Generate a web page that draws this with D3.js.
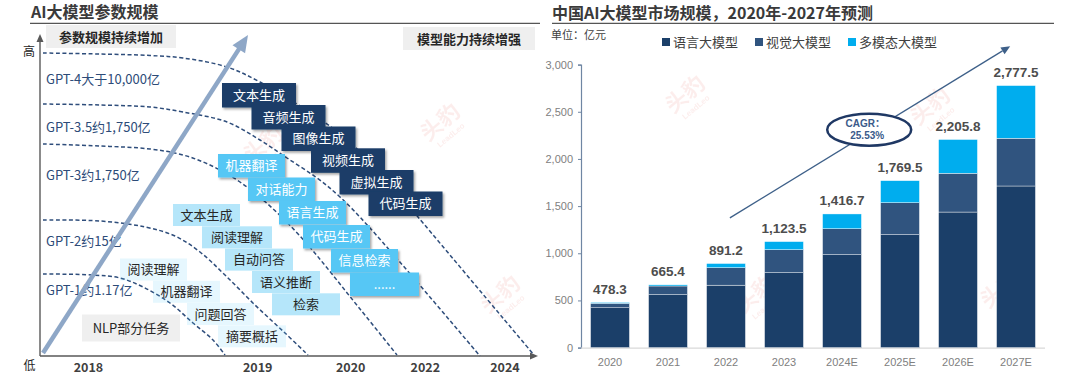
<!DOCTYPE html>
<html><head><meta charset="utf-8">
<script src="https://cdn.jsdelivr.net/npm/d3@7/dist/d3.min.js"></script>
<style>body{margin:0;background:#fff;} svg{display:block;}</style>
</head><body>
<svg id="c" width="1080" height="376"></svg>
<script>
// ---------------- DATA (right chart) ----------------
const years = ["2020","2021","2022","2023","2024E","2025E","2026E","2027E"];
const totals = [478.3, 665.4, 891.2, 1123.5, 1416.7, 1769.5, 2205.8, 2777.5];
const language = [422, 561, 662, 794, 985, 1197, 1437, 1713];
const visual = [48, 92, 185, 244, 275, 339, 411, 506];
const multimodal = [8.3, 12.4, 44.2, 85.5, 156.7, 233.5, 357.8, 558.5];
const seriesNames = ["语言大模型","视觉大模型","多模态大模型"];
const yTicks = [0, 500, 1000, 1500, 2000, 2500, 3000];
const cagrText = ["CAGR：", "25.53%"];

// ---------------- DATA (left diagram) ----------------
const leftYears = ["2018","2019","2020","2022","2024"];
const gptLabels = ["GPT-4大于10,000亿","GPT-3.5约1,750亿","GPT-3约1,750亿","GPT-2约15亿","GPT-1约1.17亿"];
const darkTasks = ["文本生成","音频生成","图像生成","视频生成","虚拟生成","代码生成"];
const cyanTasks = ["机器翻译","对话能力","语言生成","代码生成","信息检索","......"];
const midTasks = ["文本生成","阅读理解","自动问答","语义推断","检索"];
const paleTasks = ["阅读理解","机器翻译","问题回答","摘要概括"];

// ---------------- LAYOUT ----------------
const CJK = "'Noto Sans CJK SC','Noto Sans',sans-serif";
const NUM = "'Liberation Sans',Arial,'Noto Sans CJK SC',sans-serif";
const colors = ["#1b3f69", "#30547f", "#00adee"];
const svg = d3.select("#c");
const defs = svg.append("defs");
const f = defs.append("filter").attr("id","sh").attr("x","-10%").attr("y","-10%").attr("width","130%").attr("height","140%");
f.append("feDropShadow").attr("dx",1.5).attr("dy",1.8).attr("stdDeviation",1).attr("flood-color","#000").attr("flood-opacity",0.35);

// faint watermarks
const wm = [[268,150],[445,128],[505,300],[690,100],[935,112],[760,300],[1005,295]];
wm.forEach(([x,y])=>{
  const g = svg.append("g").attr("transform",`translate(${x},${y}) rotate(-40)`).attr("opacity",0.09);
  g.append("text").attr("text-anchor","middle").attr("font-family",CJK).attr("font-weight","bold")
    .attr("font-size",22).attr("fill","#e0483e").text("头豹");
  g.append("text").attr("text-anchor","middle").attr("y",12).attr("font-family",NUM).attr("font-weight","bold")
    .attr("font-size",8).attr("fill","#e0483e").text("LeadLeo");
});

// ================= LEFT PANEL =================
const L = svg.append("g");
L.append("text").attr("x",31).attr("y",18).attr("font-family",CJK).attr("font-weight","bold")
  .attr("font-size",16).attr("fill","#3a3a3a").text("AI大模型参数规模");
L.append("line").attr("x1",30).attr("x2",540).attr("y1",23.3).attr("y2",23.3).attr("stroke","#555").attr("stroke-width",1.2);

// gray header boxes
[["参数规模持续增加",46,25,130],["模型能力持续增强",403,27,132]].forEach(([t,x,y,w])=>{
  L.append("rect").attr("x",x).attr("y",y).attr("width",w).attr("height",23).attr("fill","#efefef");
  L.append("text").attr("x",x+w/2).attr("y",y+16.5).attr("text-anchor","middle").attr("font-family",CJK)
    .attr("font-weight","bold").attr("font-size",13).attr("fill","#262626").text(t);
});

// axes
const axisCol = "#595959";
L.append("line").attr("x1",40).attr("y1",356).attr("x2",40).attr("y2",40).attr("stroke",axisCol).attr("stroke-width",1.4);
L.append("path").attr("d","M40,34 L36.5,42 L43.5,42 Z").attr("fill",axisCol);
L.append("line").attr("x1",40).attr("y1",356).attr("x2",532).attr("y2",356).attr("stroke",axisCol).attr("stroke-width",1.4);
L.append("path").attr("d","M538,356 L530,352.5 L530,359.5 Z").attr("fill",axisCol);
L.append("text").attr("x",29).attr("y",56).attr("text-anchor","middle").attr("font-family",CJK).attr("font-size",12).attr("fill","#262626").text("高");
L.append("text").attr("x",29.5).attr("y",369.5).attr("text-anchor","middle").attr("font-family",CJK).attr("font-size",12).attr("fill","#262626").text("低");
const yearX = [88.5, 257.7, 350.7, 425.3, 505];
leftYears.forEach((t,i)=>{
  L.append("text").attr("x",yearX[i]).attr("y",371.5).attr("text-anchor","middle").attr("font-family",CJK)
    .attr("font-weight","bold").attr("font-size",12.5).attr("fill","#404040").text(t);
});

// dashed generation curves
const curvePts = [
  [[43,53],[100,54],[150,55.5],[183,58],[227,67],[260,82],[300,106],[340,134],[380,172],[418,217],[534,355]],
  [[43,104],[100,105],[150,107],[183,112],[227,122],[260,140],[287,158],[317,178],[340,197],[370,228],[480,356]],
  [[43,144],[100,146],[150,149],[183,155],[210,165],[237,180],[262,199],[300,236],[360,309],[397,355]],
  [[43,220],[100,221],[145,227],[175,236],[200,252],[225,275],[255,305],[285,333],[308,355]],
  [[43,274],[93,275],[120,278],[143,287],[170,303],[193,323],[213,340],[225,355]]
];
const lineGen = d3.line().curve(d3.curveCatmullRom.alpha(0.5));
curvePts.forEach(p=>{
  L.append("path").attr("d",lineGen(p)).attr("fill","none").attr("stroke","#2e4d7b")
    .attr("stroke-width",1.5).attr("stroke-dasharray","4,2.5");
});
const gptY = [83.5, 131.5, 180, 245.5, 295];
gptLabels.forEach((t,i)=>{
  L.append("text").attr("x",46).attr("y",gptY[i]).attr("font-family",CJK).attr("font-size",13)
    .attr("fill","#2d4b78").text(t);
});

// big arrow
(function(){
  const x0=43,y0=353,x1=248,y1=35;
  const dx=x1-x0, dy=y1-y0, len=Math.hypot(dx,dy), ux=dx/len, uy=dy/len, nx=-uy, ny=ux;
  const bx=x1-17*ux, by=y1-17*uy;
  L.append("line").attr("x1",x0).attr("y1",y0).attr("x2",bx+2*ux).attr("y2",by+2*uy).attr("stroke","#8ea7c7").attr("stroke-width",4.5);
  L.append("path").attr("d",`M${x1},${y1} L${bx+7.5*nx},${by+7.5*ny} L${bx-7.5*nx},${by-7.5*ny} Z`).attr("fill","#8ea7c7");
})();

// task boxes
function boxes(list, xs, ys, ws, h, fill, opacity, txtCol, shadow){
  list.forEach((t,i)=>{
    const r = L.append("rect").attr("x",xs[i]).attr("y",ys[i]).attr("width",ws[i]).attr("height",h)
      .attr("fill",fill).attr("fill-opacity",opacity);
    if(shadow) r.attr("filter","url(#sh)");
    L.append("text").attr("x",xs[i]+ws[i]/2).attr("y",ys[i]+h/2+4.6).attr("text-anchor","middle")
      .attr("font-family",CJK).attr("font-size",13).attr("fill",txtCol).text(t);
  });
}
boxes(paleTasks, [120,153,187,218], [258.5,280.8,303,325.3], [67,67,67,68], 22, "#5ac8f5", 0.15, "#262626", false);
boxes(midTasks, [173,202,225,252,272], [204,226.3,248.6,271,293.3], [67,70,68,68,68], 22, "#5ac8f5", 0.45, "#262626", false);
boxes(cyanTasks, [218,248,279,303,331,350], [154,177.5,201,225,249,272.5], [67,67,67,67,67,69], 23.5, "#57c7f5", 1, "#ffffff", true);
boxes(darkTasks, [222,251.5,281.5,311,339.5,368.5], [83,105,126.5,148.3,170,191.5], [74,74,74,74,74,74], 24.5, "#1c3d68", 1, "#ffffff", true);

// NLP box
L.append("rect").attr("x",82).attr("y",314.5).attr("width",98).attr("height",27).attr("fill","#efefef");
L.append("text").attr("x",131).attr("y",333).attr("text-anchor","middle").attr("font-family",CJK)
  .attr("font-size",13).attr("fill","#262626").text("NLP部分任务");

// ================= RIGHT PANEL =================
const R = svg.append("g");
R.append("text").attr("x",552).attr("y",19).attr("font-family",CJK).attr("font-weight","bold")
  .attr("font-size",16).attr("fill","#3a3a3a").text("中国AI大模型市场规模，2020年-2027年预测");
R.append("line").attr("x1",552).attr("x2",1054).attr("y1",23.3).attr("y2",23.3).attr("stroke","#555").attr("stroke-width",1.2);
R.append("text").attr("x",551).attr("y",39).attr("font-family",CJK).attr("font-size",11).attr("fill","#404040").text("单位：亿元");

const x = d3.scaleBand().domain(years).range([581,1045]).paddingInner(0.33).paddingOuter(0.165);
const y = d3.scaleLinear().domain([0,3000]).range([347.6,64.6]);

// legend
const legX = [662, 755, 848];
seriesNames.forEach((n,i)=>{
  R.append("rect").attr("x",legX[i]).attr("y",38).attr("width",8).attr("height",8).attr("fill",colors[i]);
  R.append("text").attr("x",legX[i]+11).attr("y",46.5).attr("font-family",CJK).attr("font-size",13).attr("fill","#404040").text(n);
});

// y axis
const yAxis = R.append("g").attr("transform","translate(581,0)")
  .call(d3.axisLeft(y).tickValues(yTicks).tickFormat(d3.format(",")).tickSize(3).tickPadding(5));
yAxis.select(".domain").attr("stroke","#6f86a3").attr("stroke-width",1.2);
yAxis.selectAll(".tick line").attr("stroke","#6f86a3");
yAxis.selectAll("text").attr("font-family",NUM).attr("font-size",11).attr("fill","#808080");

// x axis
const xAxis = R.append("g").attr("transform","translate(0,347.6)")
  .call(d3.axisBottom(x).tickSize(0).tickPadding(11));
xAxis.select(".domain").attr("stroke","#d9d9d9").attr("stroke-width",1.2).attr("d","M581,0.5H1045");
xAxis.selectAll("text").attr("font-family",NUM).attr("font-size",11).attr("fill","#808080");

// stacked bars
const rows = years.map((yr,i)=>({yr, a:language[i], b:visual[i], c:multimodal[i]}));
const stacked = d3.stack().keys(["a","b","c"])(rows);
stacked.forEach((s,si)=>{
  R.append("g").selectAll("rect").data(s).join("rect")
    .attr("x",d=>x(d.data.yr)).attr("width",x.bandwidth())
    .attr("y",d=>y(d[1])).attr("height",d=>y(d[0])-y(d[1]))
    .attr("fill",colors[si]).attr("stroke","#ffffff").attr("stroke-width",0.4);
});
R.append("g").selectAll("text").data(years).join("text")
  .attr("x",d=>x(d)+x.bandwidth()/2).attr("y",(d,i)=>y(totals[i])-8.5)
  .attr("text-anchor","middle").attr("font-family",NUM).attr("font-size",13.5).attr("font-weight","bold").attr("fill","#4d4d4d")
  .text((d,i)=>d3.format(",.1f")(totals[i]));

// CAGR arrow
(function(){
  const x0=x("2022")+x.bandwidth()*0.6, y0=y(1375), x1=x("2027E")+x.bandwidth()*0.35, y1=y(3195);
  const dx=x1-x0, dy=y1-y0, len=Math.hypot(dx,dy), ux=dx/len, uy=dy/len, nx=-uy, ny=ux;
  const bx=x1-9*ux, by=y1-9*uy;
  R.append("line").attr("x1",x0).attr("y1",y0).attr("x2",bx).attr("y2",by).attr("stroke","#3e6089").attr("stroke-width",1.3);
  R.append("path").attr("d",`M${x1},${y1} L${bx+4*nx},${by+4*ny} L${bx-4*nx},${by-4*ny} Z`).attr("fill","#3e6089");
})();
const ecx = x("2024E")+x.bandwidth()*1.2, ecy = y(2310);
R.append("ellipse").attr("cx",ecx).attr("cy",ecy).attr("rx",42).attr("ry",16)
  .attr("fill","#fff").attr("stroke","#1f3864").attr("stroke-width",2.5);
cagrText.forEach((t,i)=>{
  R.append("text").attr("x",ecx-4+i*2).attr("y",ecy-3+i*12.5).attr("text-anchor","middle")
    .attr("font-family",NUM).attr("font-weight","bold").attr("font-size",10).attr("fill","#3a5a8a").text(t);
});
</script>
</body></html>
